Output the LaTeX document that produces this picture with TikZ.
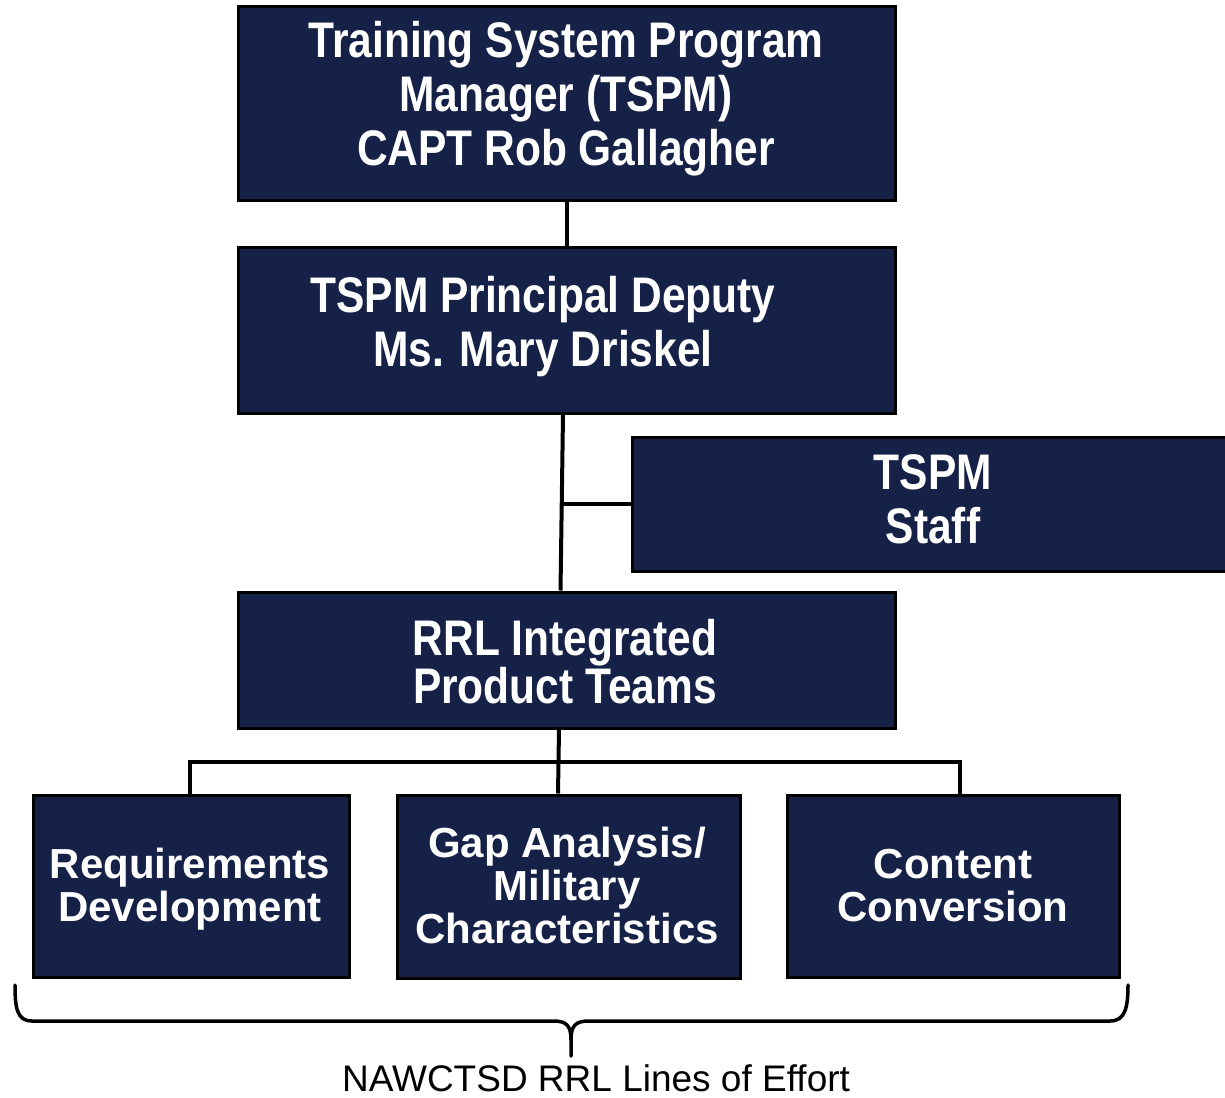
\documentclass[tikz,border=0pt]{standalone}
\usepackage{fontspec}
\setmainfont{Liberation Sans}
\newfontfamily\narrowfont[FakeStretch=0.85]{Liberation Sans}
\definecolor{navy}{RGB}{22,33,71}
\begin{document}
\begin{tikzpicture}[x=1pt,y=-1pt,
  box/.style={draw=black,fill=navy,line width=3pt,rectangle,inner sep=0pt},
  ntxt/.style={text=white,align=center,font=\narrowfont\bfseries\fontsize{50}{54}\selectfont,inner sep=0pt},
  wtxt/.style={text=white,align=center,font=\bfseries\fontsize{42}{43}\selectfont,inner sep=0pt},
  conn/.style={line width=4pt,black},
  bracepath/.style={line width=3.5pt,black,line cap=round,line join=round}]
\useasboundingbox (0,0) rectangle (1225,1097);
% boxes
\node[box,minimum width=657,minimum height=193] (tspm) at (566.5,103.5) {};
\node[box,minimum width=657,minimum height=166] (dep) at (566.5,330) {};
\node[box,minimum width=610,minimum height=134] (staff) at (937,504) {};
\node[box,minimum width=657,minimum height=136] (rrl) at (566.5,660) {};
\node[box,minimum width=316,minimum height=182] (req) at (191,886) {};
\node[box,minimum width=343,minimum height=183] (gap) at (568.5,886.5) {};
\node[box,minimum width=332,minimum height=182] (cont) at (953,886) {};
% texts
\node[ntxt] (tspmT) at (566,99) {Training System Program\\Manager (TSPM)\\CAPT Rob Gallagher};
\node[ntxt] (depT) at (543,327) {TSPM Principal Deputy\\Ms. Mary Driskel};
\node[ntxt] (staffT) at (933,499) {TSPM\\Staff};
\node[ntxt,font=\narrowfont\bfseries\fontsize{50}{43}\selectfont] (rrlT) at (565,662) {RRL Integrated\\Product Teams};
\node[wtxt] (reqT) at (190,889) {Requirements\\Development};
\node[wtxt] (gapT) at (567,885) {Gap Analysis/\\Military\\Characteristics};
\node[wtxt] (contT) at (953,886) {Content\\Conversion};
% connectors
\draw[conn] (tspm.south) -- (dep.north);
\coordinate (dB) at ([xshift=-3.5]dep.south);
\coordinate (rT) at ([xshift=-6]rrl.north);
\draw[conn] (dB) -- (rT);
\coordinate (sJ) at (562,504);
\draw[conn] (staff.west) -- (sJ);
\draw[conn] ([xshift=-7.5]rrl.south) -- ([xshift=-10.5]gap.north);
\draw[conn,line join=miter] ([xshift=-1]req.north) -- (190,762) -- (960,762) -- ([xshift=7]cont.north);
% brace
\draw[bracepath] (15,985) .. controls (15,1008) and (17,1021) .. (32,1021) -- (553,1021)
  .. controls (566,1021) and (571,1025) .. (571,1040) -- (571,1056);
\draw[bracepath] (571,1040) .. controls (571,1025) and (576,1021) .. (589,1021) -- (1110,1021)
  .. controls (1125,1021) and (1128,1008) .. (1128,985);
\node[font=\fontsize{37}{40}\selectfont,inner sep=0pt] (lbl) at (596,1078) {NAWCTSD RRL Lines of Effort};
\end{tikzpicture}
\end{document}
